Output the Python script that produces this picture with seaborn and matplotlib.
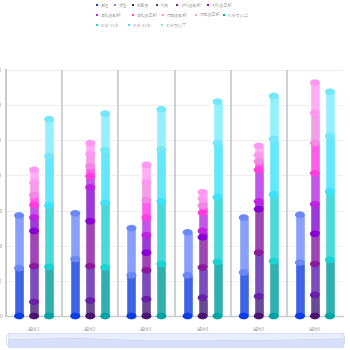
import matplotlib
matplotlib.use("Agg")
import matplotlib.pyplot as plt
from matplotlib.patches import Ellipse, FancyBboxPatch
from matplotlib.colors import to_hex
import seaborn as sns
import pandas as pd

sns.set_theme(style="white")
plt.rcParams["font.family"] = ["Noto Sans CJK SC", "DejaVu Sans"]

# ---- data -------------------------------------------------------------
groups = ["监狱1", "监狱2", "监狱3", "监狱4", "监狱5", "监狱6"]

gender_names = ["男性", "女性"]
male = [68, 81, 58, 58, 62, 76]
female = [75, 65, 67, 61, 78, 68]

rank_names = ["办事员", "科员", "乡科级副职", "乡科级正职",
              "县处级副职", "县处级正职", "厅局级副职", "厅局级正职"]
clerk = [20, 22, 24, 26, 28, 30]
staff = [51, 49, 41, 43, 62, 44]
township_deputy = [50, 64, 25, 43, 62, 43]
township_chief = [19, 48, 25, 9, 11, 42]
county_deputy = [18, 16, 25, 26, 45, 44]
county_chief = [14, 14, 25, 10, 12, 43]
bureau_deputy = [17, 17, 25, 10, 9, 43]
bureau_chief = [19, 16, 25, 9, 13, 43]

age_names = ["56岁及以上", "46岁-55岁", "36岁-45岁", "36岁及以下"]
age_56_up = [70, 69, 74, 77, 78, 80]
age_46_55 = [87, 92, 89, 92, 95, 97]
age_36_45 = [70, 75, 74, 77, 79, 79]
age_35_down = [53, 52, 57, 59, 61, 63]

y_ticks = [0, 50, 100, 150, 200, 250, 300, 350]

# ---- styling ----------------------------------------------------------
stacks = ["gender", "rank", "age"]
series = {
    "gender": list(zip(gender_names, [male, female])),
    "rank": list(zip(rank_names, [clerk, staff, township_deputy, township_chief,
                                  county_deputy, county_chief, bureau_deputy, bureau_chief])),
    "age": list(zip(age_names, [age_56_up, age_46_55, age_36_45, age_35_down])),
}
# strong colour (caps, legend) and body colour per series
strong = {
    "男性": "#0a3ce8", "女性": "#6a88f8",
    "办事员": "#4a1472", "科员": "#6a1fa8", "乡科级副职": "#8c1a9c", "乡科级正职": "#8a00d4",
    "县处级副职": "#c020e2", "县处级正职": "#ff3ee0", "厅局级副职": "#f088e4", "厅局级正职": "#ff98f0",
    "56岁及以上": "#00a3a3", "46岁-55岁": "#1ad4d4", "36岁-45岁": "#3de2f8", "36岁及以下": "#74e8fb",
}
body = {
    "男性": "#3d64e4", "女性": "#88a0fa",
    "办事员": "#6a4a94", "科员": "#7c4bbd", "乡科级副职": "#a046b4", "乡科级正职": "#9b3ad8",
    "县处级副职": "#c455ea", "县处级正职": "#ff5de8", "厅局级副职": "#f39de8", "厅局级正职": "#ffadf5",
    "56岁及以上": "#31b0b0", "46岁-55岁": "#4ad8d8", "36岁-45岁": "#62e7fb", "36岁及以下": "#94f0fd",
}

# long table of cumulative segment tops
rows = []
for st in stacks:
    for gi, g in enumerate(groups):
        cum = 0
        for li, (name, vals) in enumerate(series[st]):
            cum += vals[gi]
            rows.append(dict(group=g, stack=st, layer=li, name=name, top=cum))
df = pd.DataFrame(rows)

fig = plt.figure(figsize=(3.5, 3.5), dpi=100)
W = H = 350.0
ax = fig.add_axes([6 / W, 34 / H, 337 / W, 246 / H])

# draw the cumulative layers from the top down so each lower one covers
lookup = {}
for layer in sorted(df["layer"].unique(), reverse=True):
    sub = df[df["layer"] == layer]
    pal = {}
    for st in stacks:
        names = [n for n, _ in series[st]]
        if layer < len(names):
            pal[st] = body[names[layer]]
            lookup[to_hex(body[names[layer]])] = (st, layer)
        else:
            pal[st] = "#ffffff"
    sns.barplot(data=sub, x="group", y="top", hue="stack", hue_order=stacks,
                order=groups, palette=pal, dodge=True, width=0.8, gap=0.33,
                saturation=1, errorbar=None, legend=False, ax=ax, zorder=2)

# cylinder caps: each segment's base ellipse sits on the top of the one below
cap_h = 9.5
for p in list(ax.patches):
    key = to_hex(p.get_facecolor())
    if key not in lookup:
        continue
    st, layer = lookup[key]
    names = [n for n, _ in series[st]]
    cx = p.get_x() + p.get_width() / 2
    w = p.get_width()
    top = p.get_height()
    cap_name = names[layer + 1] if layer + 1 < len(names) else names[layer]
    ax.add_patch(Ellipse((cx, top), w, cap_h, facecolor=strong[cap_name],
                         edgecolor="none", zorder=4 + layer * 0.01, clip_on=False))
    if layer == 0:
        ax.add_patch(Ellipse((cx, 0), w, cap_h, facecolor=strong[names[0]],
                             edgecolor="none", zorder=4, clip_on=False))

ax.set_xlim(-0.5, len(groups) - 0.5)
ax.set_ylim(0, 350)
ax.set_yticks(y_ticks)
ax.set_yticklabels([str(v) for v in y_ticks])
ax.set_xlabel("")
ax.set_ylabel("")
ax.tick_params(axis="y", length=0, pad=2.5, labelsize=3.5, labelcolor="#999999")
ax.tick_params(axis="x", length=0, pad=8, labelsize=3.5, labelcolor="#aaaaaa")
ax.yaxis.grid(True, color="#eeeeee", linewidth=0.7, zorder=0)
for xb in [i + 0.5 for i in range(len(groups) - 1)]:
    ax.axvline(xb, color="#c6cacd", linewidth=1.2, zorder=1)
for side in ["top", "right"]:
    ax.spines[side].set_visible(False)
ax.spines["left"].set_color("#c6cacd")
ax.spines["left"].set_linewidth(1.4)
ax.spines["bottom"].set_color("#c6cacd")
ax.spines["bottom"].set_linewidth(1.0)
ax.set_facecolor("white")

# legend, laid out in pixel coordinates
lax = fig.add_axes([0, 0, 1, 1], facecolor="none")
lax.set_xlim(0, W)
lax.set_ylim(H, 0)
lax.axis("off")
legend_rows = [
    (5, [("男性", 96.5), ("女性", 114.5), ("办事员", 133), ("科员", 157),
         ("乡科级副职", 177), ("乡科级正职", 208)]),
    (15, [("县处级副职", 96.5), ("县处级正职", 132.5), ("厅局级副职", 162.5),
          ("厅局级正职", 196), ("56岁及以上", 224)]),
    (25, [("46岁-55岁", 96.5), ("36岁-45岁", 129), ("36岁及以下", 161.5)]),
]
for yy, items in legend_rows:
    for name, xx in items:
        lax.scatter([xx], [yy], s=3, marker="s", color=strong[name], linewidths=0)
        lax.text(xx + 4, yy, name, fontsize=3, color="#b0b0b0", va="center", ha="left")

# data-zoom slider with the 男性 series as its shadow
sax = fig.add_axes([8 / W, 3 / H, 335 / W, 14 / H])
sax.set_facecolor("#e8eefc")
sax.fill_between(range(len(groups)), male, 0, color="#d6e0fa", linewidth=0)
sax.plot(range(len(groups)), male, color="#c5d3f3", linewidth=0.6)
sax.set_xlim(0, len(groups) - 1)
sax.set_ylim(0, 130)
sax.set_xticks([])
sax.set_yticks([])
for s in sax.spines.values():
    s.set_color("#d3dcf2")
    s.set_linewidth(0.6)
for hx in [8, 343]:
    lax.add_patch(FancyBboxPatch((hx - 1.3, 335), 2.6, 10,
                                 boxstyle="round,pad=0,rounding_size=1.2",
                                 facecolor="white", edgecolor="#b8bcc4", linewidth=0.4))

fig.savefig("out.png", dpi=100, facecolor="white")
